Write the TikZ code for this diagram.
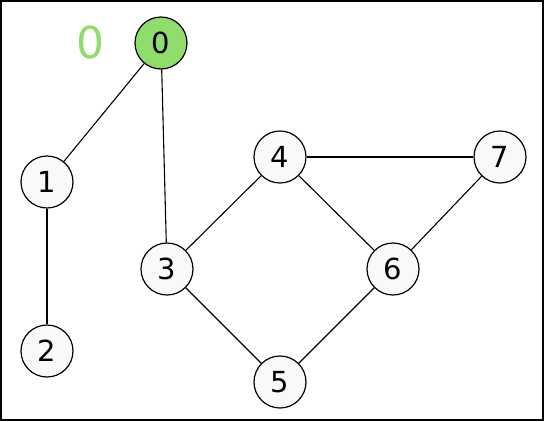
\documentclass[tikz,border=0pt]{standalone}
\usepackage{fontspec}
\setmainfont{DejaVu Sans}
\usepackage{xcolor}
\definecolor{visitgreen}{RGB}{144,221,110}
\definecolor{nodefill}{RGB}{248,250,250}

\begin{document}
\begin{tikzpicture}[
    x=1pt, y=-1pt,
    vertex/.style={
        circle, draw=black, line width=1.2pt, fill=nodefill,
        minimum size=52pt, inner sep=0pt, font=\fontsize{29}{29}\selectfont
    },
    visited/.style={vertex, fill=visitgreen},
    edge/.style={line width=1.1pt}
]
% frame
\draw[line width=2pt] (1,1) rectangle (543,420);

% vertices
\node[visited] (v0) at (161,43) {0};
\node[vertex] (v1) at (47,182) {1};
\node[vertex] (v2) at (47,351) {2};
\node[vertex] (v3) at (167,269) {3};
\node[vertex] (v4) at (280,157) {4};
\node[vertex] (v5) at (280,382) {5};
\node[vertex] (v6) at (393,269) {6};
\node[vertex] (v7) at (500,157) {7};

% order label
\node[text=visitgreen, font=\fontsize{44}{44}\selectfont] (step0) at (90,42) {0};

% edges
\draw[edge] (v0) -- (v1);
\draw[edge] (v0) -- (v3);
\draw[edge] (v1) -- (v2);
\draw[edge] (v3) -- (v4);
\draw[edge] (v3) -- (v5);
\draw[edge] (v4) -- (v6);
\draw[edge] (v4) -- (v7);
\draw[edge] (v5) -- (v6);
\draw[edge] (v6) -- (v7);

\end{tikzpicture}
\end{document}
